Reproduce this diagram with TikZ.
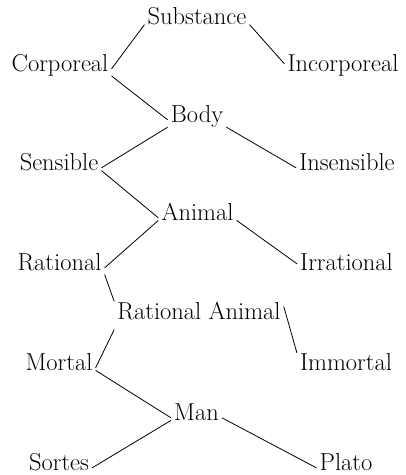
\documentclass[tikz,border=0pt]{standalone}
\begin{document}
\begin{tikzpicture}[x=1pt,y=-1pt,
  term/.style={anchor=base,inner xsep=3pt,inner ysep=0pt,font=\fontsize{24.5}{28}\selectfont},
  link/.style={line width=0.8pt}]
\useasboundingbox (0,0) rectangle (406,475);
\node[term] (sub) at (197,24) {Substance};
\node[term] (corp) at (60,71) {Corporeal};
\node[term] (inc) at (343,71) {Incorporeal};
\node[term] (body) at (197,122) {Body};
\node[term] (sens) at (59,170) {Sensible};
\node[term] (insens) at (347,170) {Insensible};
\node[term] (anim) at (197.5,220) {Animal};
\node[term] (rat) at (59.5,270) {Rational};
\node[term] (irr) at (346.5,270) {Irrational};
\node[term] (ra) at (199,319) {Rational Animal};
\node[term] (mort) at (59,370) {Mortal};
\node[term] (imm) at (346,370) {Immortal};
\node[term] (man) at (196.5,420) {Man};
\node[term] (sort) at (59,470) {Sortes};
\node[term] (plato) at (346,470) {Plato};
\draw[link] (sub.south west) -- (corp.mid east);
\draw[link] (sub.south east) -- ([yshift=5pt]inc.mid west);
\draw[link] (corp.south east) -- (body.mid west);
\draw[link] (body.south west) -- (sens.mid east);
\draw[link] (body.south east) -- (insens.mid west);
\draw[link] (sens.south east) -- (anim.mid west);
\draw[link] (anim.south west) -- (rat.mid east);
\draw[link] (anim.south east) -- ([yshift=4pt]irr.mid west);
\draw[link] ([yshift=-4pt]rat.south east) -- (ra.north west);
\draw[link] ([xshift=0pt,yshift=-5pt]ra.north east) -- (imm.north west);
\draw[link] ([yshift=-10pt]ra.south west) -- (mort.mid east);
\draw[link] (mort.south east) -- (man.mid west);
\draw[link] (man.south west) -- (sort.mid east);
\draw[link] (man.mid east) -- (plato.mid west);
\end{tikzpicture}
\end{document}
